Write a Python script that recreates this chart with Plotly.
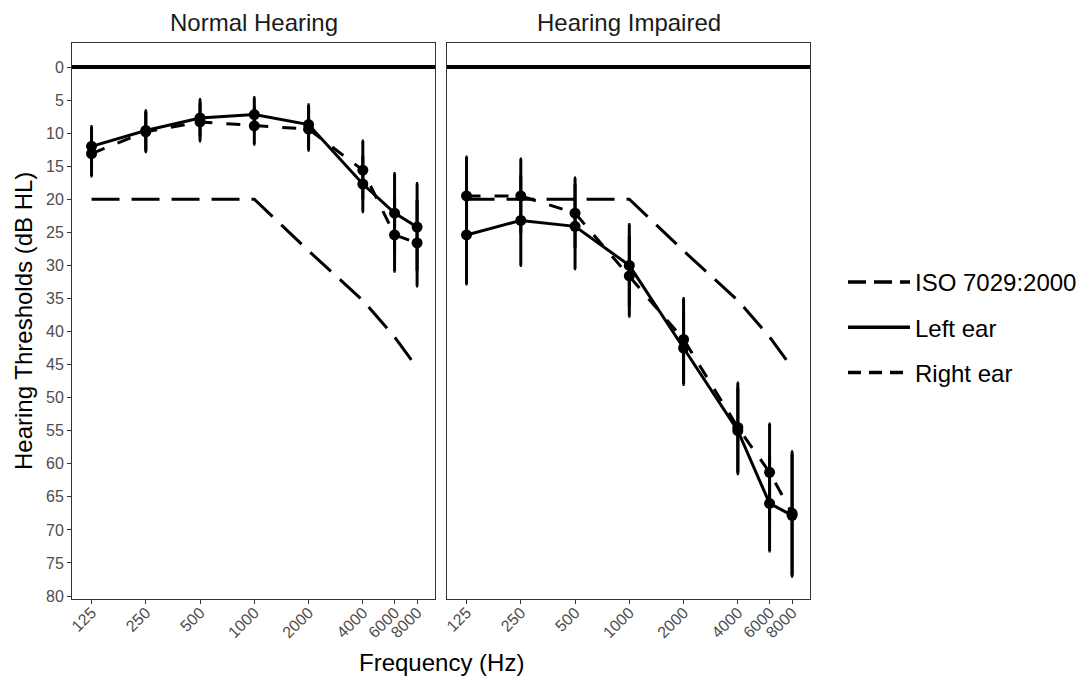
import math
import plotly.graph_objects as go

freqs = [125, 250, 500, 1000, 2000, 4000, 6000, 8000]
tick_labels = ["125", "250", "500", "1000", "2000", "4000", "6000", "8000"]

iso_7029 = [20, 20, 20, 20, 27.8, 35.3, 40.8, 45.5]

nh_left = [12.0, 9.6, 7.7, 7.2, 8.7, 17.7, 22.1, 24.2]
nh_left_err = [3.0, 3.0, 2.8, 2.6, 3.0, 4.2, 6.0, 6.6]
nh_right = [13.1, 9.8, 8.3, 8.9, 9.4, 15.6, 25.4, 26.6]
nh_right_err = [3.4, 3.0, 2.9, 2.8, 3.2, 4.4, 5.5, 6.5]

hi_left = [25.4, 23.2, 24.1, 30.0, 42.5, 55.0, 66.0, 67.8]
hi_left_err = [7.4, 6.8, 6.4, 6.2, 5.5, 6.5, 7.2, 9.2]
hi_right = [19.5, 19.5, 22.1, 31.6, 41.2, 54.5, 61.3, 67.5]
hi_right_err = [5.9, 5.6, 5.3, 6.1, 6.2, 6.7, 7.3, 9.3]

y_ticks = list(range(0, 85, 5))

W, H = 1085, 679
OFF = 8  # page body margin of the browser
BLACK = "black"
ISO_DASH = "28px,12px"
RIGHT_DASH = "14px,14px"
FONT = "Liberation Sans, Arial, sans-serif"


def px(v):
    return (v - OFF) / W


def py(v):
    return 1 - (v - OFF) / H


fig = go.Figure()

panels = [
    ("x", "y", nh_left, nh_left_err, nh_right, nh_right_err),
    ("x2", "y2", hi_left, hi_left_err, hi_right, hi_right_err),
]

for xa, ya, le, lerr, re, rerr in panels:
    fig.add_trace(go.Scatter(
        x=freqs, y=iso_7029, xaxis=xa, yaxis=ya, mode="lines",
        line=dict(color=BLACK, width=3, dash=ISO_DASH),
        showlegend=False, hoverinfo="skip"))
    fig.add_trace(go.Scatter(
        x=freqs, y=re, xaxis=xa, yaxis=ya, mode="lines+markers",
        line=dict(color=BLACK, width=3, dash=RIGHT_DASH),
        marker=dict(color=BLACK, size=11),
        error_y=dict(type="data", array=rerr, visible=True, color=BLACK,
                     thickness=3, width=1),
        showlegend=False))
    fig.add_trace(go.Scatter(
        x=freqs, y=le, xaxis=xa, yaxis=ya, mode="lines+markers",
        line=dict(color=BLACK, width=3),
        marker=dict(color=BLACK, size=11),
        error_y=dict(type="data", array=lerr, visible=True, color=BLACK,
                     thickness=3, width=1),
        showlegend=False))

# legend entries (line keys only, dash scaled to the 30px legend key)
for name, dash, grp in [("ISO 7029:2000", "18px,8px", "a"),
                        ("Left ear", "solid", "b"),
                        ("Right ear", "13px,8px", "c")]:
    fig.add_trace(go.Scatter(x=[None], y=[None], mode="lines", name=name,
                             legendgroup=grp,
                             line=dict(color=BLACK, width=3.5, dash=dash)))

# thick reference line at 0 dB
for xa, ya in [("x", "y"), ("x2", "y2")]:
    fig.add_shape(type="line", xref=f"{xa} domain", yref=ya,
                  x0=0, x1=1, y0=0, y1=0,
                  line=dict(color=BLACK, width=4), layer="above")

# geometry (reference pixel positions)
xl = [px(72), px(435)]
xr = [px(447), px(810)]
yd = [py(599), py(43)]
xrange_log = [math.log10(125) - 0.36 * math.log10(2),
              math.log10(8000) + 0.33 * math.log10(2)]
yrange = [80.45, -3.63]

axis_common = dict(
    showline=True, mirror=True, linecolor="#333333", linewidth=1,
    showgrid=False, zeroline=False, automargin=False,
    ticks="outside", ticklen=4, tickcolor="#333333", tickwidth=1,
    tickfont=dict(family=FONT, size=16, color="#4d4d4d"),
)

xaxis_common = dict(axis_common, type="log", range=xrange_log,
                    tickmode="array", tickvals=freqs, ticktext=tick_labels,
                    tickangle=-45, ticklabelstandoff=-7)

fig.update_layout(
    width=W, height=H,
    margin=dict(l=0, r=0, t=0, b=0, autoexpand=False),
    paper_bgcolor="white", plot_bgcolor="white",
    font=dict(family=FONT, color=BLACK),
    xaxis=dict(xaxis_common, domain=xl, anchor="y"),
    xaxis2=dict(xaxis_common, domain=xr, anchor="y2"),
    yaxis=dict(axis_common, domain=yd, range=yrange, anchor="x",
               tickmode="array", tickvals=y_ticks),
    yaxis2=dict(axis_common, domain=yd, range=yrange, anchor="x2",
                tickmode="array", tickvals=y_ticks, showticklabels=False,
                ticks=""),
    legend=dict(x=px(835 + OFF), y=py(252 + OFF), xanchor="left",
                yanchor="top",
                font=dict(family=FONT, size=24, color=BLACK),
                tracegroupgap=11, itemwidth=62,
                bgcolor="rgba(0,0,0,0)"),
    annotations=[
        dict(text="Normal Hearing", x=px(253.5), y=py(22),
             xanchor="center", yanchor="middle",
             xref="paper", yref="paper", showarrow=False,
             font=dict(family=FONT, size=24, color="#1a1a1a")),
        dict(text="Hearing Impaired", x=px(628.5), y=py(22),
             xanchor="center", yanchor="middle",
             xref="paper", yref="paper", showarrow=False,
             font=dict(family=FONT, size=24, color="#1a1a1a")),
        dict(text="Frequency (Hz)", x=px(441), y=py(662),
             xanchor="center", yanchor="middle",
             xref="paper", yref="paper", showarrow=False,
             font=dict(family=FONT, size=24, color=BLACK)),
        dict(text="Hearing Thresholds (dB HL)", x=px(23), y=py(321),
             xanchor="center", yanchor="middle",
             xref="paper", yref="paper", showarrow=False, textangle=-90,
             font=dict(family=FONT, size=24, color=BLACK)),
    ],
)

fig.write_html("out.html")
